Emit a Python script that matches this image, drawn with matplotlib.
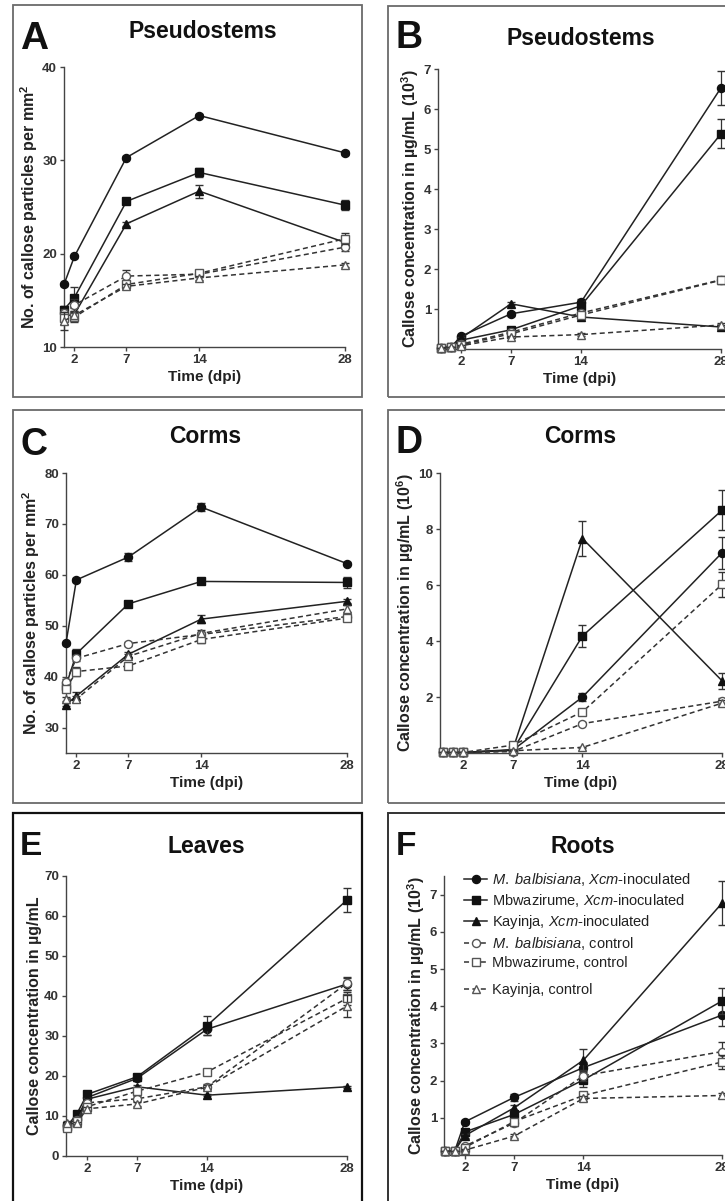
import matplotlib
matplotlib.use('Agg')
import matplotlib.pyplot as plt
from matplotlib.patches import Rectangle
from matplotlib.lines import Line2D

plt.rcParams['font.family'] = ['Liberation Sans', 'DejaVu Sans']
plt.rcParams['mathtext.fontset'] = 'custom'
plt.rcParams['mathtext.rm'] = 'Liberation Sans'
plt.rcParams['mathtext.it'] = 'Liberation Sans:italic'
plt.rcParams['mathtext.bf'] = 'Liberation Sans:bold'

# ---------------- data ----------------
series_labels = [
    r"$\mathit{M.\ balbisiana}$, $\mathit{Xcm}$-inoculated",
    r"Mbwazirume, $\mathit{Xcm}$-inoculated",
    r"Kayinja, $\mathit{Xcm}$-inoculated",
    r"$\mathit{M.\ balbisiana}$, control",
    r"Mbwazirume, control",
    r"Kayinja, control",
]
tick_x = [2, 7, 14, 28]

# A: Pseudostems, callose particles per mm2
A_x = [1, 2, 7, 14, 28]
A_vals = [[16.7, 19.7, 30.3, 34.8, 30.8],
          [14.0, 15.3, 25.6, 28.7, 25.2],
          [13.3, 13.5, 23.2, 26.7, 21.2],
          [13.6, 14.5, 17.6, 17.8, 20.7],
          [13.1, 13.2, 16.7, 17.9, 21.6],
          [12.8, 13.4, 16.5, 17.4, 18.8]]
A_errs = [[0.2, 0.2, 0.2, 0.2, 0.2],
          [0.4, 1.1, 0.3, 0.5, 0.5],
          [0.3, 0.4, 0.2, 0.7, 0.6],
          [0.5, 0.6, 0.7, 0.3, 0.4],
          [0.6, 0.5, 0.4, 0.3, 0.6],
          [1.0, 0.4, 0.3, 0.2, 0.2]]

# B: Pseudostems, callose concentration (10^3 ug/mL)
B_x = [0, 1, 2, 7, 14, 28]
B_vals = [[0.03, 0.05, 0.32, 0.88, 1.17, 6.53],
          [0.03, 0.05, 0.22, 0.48, 1.08, 5.38],
          [0.03, 0.05, 0.27, 1.13, 0.80, 0.55],
          [0.03, 0.05, 0.12, 0.42, 0.90, 1.73],
          [0.03, 0.05, 0.10, 0.38, 0.85, 1.72],
          [0.03, 0.05, 0.08, 0.30, 0.36, 0.60]]
B_errs = [[0.0, 0.0, 0.03, 0.05, 0.08, 0.43],
          [0.0, 0.0, 0.03, 0.05, 0.08, 0.36],
          [0.0, 0.0, 0.03, 0.04, 0.05, 0.05],
          [0.0, 0.0, 0.02, 0.04, 0.05, 0.10],
          [0.0, 0.0, 0.02, 0.04, 0.05, 0.08],
          [0.0, 0.0, 0.02, 0.03, 0.03, 0.04]]

# C: Corms, callose particles per mm2
C_x = [1, 2, 7, 14, 28]
C_vals = [[46.6, 59.0, 63.5, 73.3, 62.2],
          [38.2, 44.5, 54.3, 58.7, 58.5],
          [34.5, 36.2, 44.4, 51.3, 54.8],
          [39.0, 43.6, 46.5, 48.3, 51.8],
          [37.6, 41.0, 42.1, 47.3, 51.5],
          [35.6, 35.6, 44.0, 48.5, 53.3]]
C_errs = [[0.3, 0.4, 0.8, 0.8, 0.3],
          [0.8, 1.0, 0.4, 0.5, 1.0],
          [0.3, 0.8, 0.5, 0.8, 0.4],
          [0.5, 0.6, 0.4, 0.5, 0.4],
          [0.6, 0.8, 0.5, 0.6, 0.5],
          [0.4, 0.5, 0.5, 0.6, 0.7]]

# D: Corms, callose concentration (10^6 ug/mL)
D_x = [0, 1, 2, 7, 14, 28]
D_vals = [[0.02, 0.02, 0.02, 0.10, 2.00, 7.15],
          [0.02, 0.02, 0.02, 0.10, 4.18, 8.67],
          [0.02, 0.02, 0.02, 0.12, 7.66, 2.58],
          [0.02, 0.02, 0.02, 0.05, 1.05, 1.85],
          [0.02, 0.02, 0.02, 0.28, 1.47, 6.02],
          [0.02, 0.02, 0.02, 0.08, 0.20, 1.78]]
D_errs = [[0.0, 0.0, 0.0, 0.02, 0.15, 0.58],
          [0.0, 0.0, 0.0, 0.02, 0.40, 0.72],
          [0.0, 0.0, 0.0, 0.02, 0.63, 0.28],
          [0.0, 0.0, 0.0, 0.02, 0.05, 0.12],
          [0.0, 0.0, 0.0, 0.03, 0.08, 0.45],
          [0.0, 0.0, 0.0, 0.02, 0.03, 0.10]]

# E: Leaves, callose concentration (ug/mL)
E_x = [0, 1, 2, 7, 14, 28]
E_vals = [[7.8, 9.3, 14.6, 19.4, 31.7, 43.0],
          [7.4, 10.6, 15.4, 19.8, 32.6, 64.0],
          [7.6, 8.5, 14.2, 17.3, 15.2, 17.3],
          [7.5, 9.0, 13.3, 14.3, 17.3, 43.2],
          [6.9, 8.8, 12.3, 16.2, 21.0, 39.4],
          [8.3, 8.3, 11.8, 13.0, 17.2, 37.5]]
E_errs = [[0.3, 0.3, 0.5, 0.6, 1.5, 1.5],
          [0.3, 0.4, 0.6, 0.8, 2.3, 3.0],
          [0.3, 0.3, 0.4, 0.4, 0.3, 0.3],
          [0.3, 0.3, 0.5, 0.6, 0.6, 1.6],
          [0.4, 0.3, 0.6, 0.6, 0.5, 1.6],
          [0.4, 0.3, 0.5, 0.5, 0.5, 2.7]]

# F: Roots, callose concentration (10^3 ug/mL)
F_x = [0, 1, 2, 7, 14, 28]
F_vals = [[0.10, 0.12, 0.89, 1.55, 2.35, 3.76],
          [0.10, 0.12, 0.62, 1.09, 2.02, 4.14],
          [0.10, 0.12, 0.52, 1.27, 2.55, 6.77],
          [0.10, 0.12, 0.24, 0.86, 2.13, 2.78],
          [0.10, 0.12, 0.20, 0.90, 1.60, 2.50],
          [0.10, 0.12, 0.13, 0.51, 1.52, 1.60]]
F_errs = [[0.0, 0.0, 0.05, 0.10, 0.15, 0.30],
          [0.0, 0.0, 0.05, 0.10, 0.20, 0.35],
          [0.0, 0.0, 0.05, 0.08, 0.30, 0.60],
          [0.0, 0.0, 0.03, 0.08, 0.15, 0.25],
          [0.0, 0.0, 0.03, 0.08, 0.10, 0.20],
          [0.0, 0.0, 0.02, 0.05, 0.06, 0.06]]

# ---------------- layout helpers ----------------
W, H = 725, 1201
fig = plt.figure(figsize=(W / 100, H / 100), dpi=100)


def fx(x):
    return x / W


def fy(y):
    return 1 - y / H


def add_ax(l, t, r, b):
    return fig.add_axes([fx(l), fy(b), (r - l) / W, (b - t) / H])


def box(l, t, r, b, color='#6a6a6a', lw=1.3):
    fig.add_artist(Rectangle((fx(l), fy(b)), (r - l) / W, (b - t) / H,
                             transform=fig.transFigure, fill=False,
                             edgecolor=color, linewidth=lw, clip_on=False))


markers = ['o', 's', '^', 'o', 's', '^']
TICKFONT = dict(fontsize=9.5, fontweight='bold', color='#333333')


def style(i):
    filled = i < 3
    return dict(color='#222222' if filled else '#333333',
                ls='-' if filled else (0, (3.3, 2.2)), lw=1.1,
                marker=markers[i], ms=5.8 if markers[i] != '^' else 6.3,
                mfc='#111111' if filled else 'white',
                mec='#111111' if filled else '#555555', mew=1.0)


def draw(ax, x, vals, errs, xlim, ylim, yticks, ylabel):
    for i, (v, e) in enumerate(zip(vals, errs)):
        cont = ax.errorbar(
            x, v, yerr=e, ecolor='#333333', elinewidth=0.9, capsize=3,
            capthick=0.9, zorder=3 + i, clip_on=False, **style(i))
        for art in cont.get_children():
            art.set_clip_on(False)
    ax.set_xlim(*xlim)
    ax.set_ylim(*ylim)
    ax.set_xticks(tick_x)
    ax.set_yticks(yticks)
    ax.set_xticklabels([str(t) for t in tick_x], **TICKFONT)
    ax.set_yticklabels([str(t) for t in yticks], **TICKFONT)
    for s in ['top', 'right']:
        ax.spines[s].set_visible(False)
    for s in ['left', 'bottom']:
        ax.spines[s].set_color('#444444')
        ax.spines[s].set_linewidth(1.0)
    ax.tick_params(direction='out', length=3, width=1.0, color='#444444', pad=2)
    ax.set_xlabel('Time (dpi)', fontsize=11, fontweight='bold',
                  color='#222222', labelpad=3)
    ax.set_ylabel(ylabel, fontsize=11.5, fontweight='bold', color='#222222',
                  labelpad=1.5)
    ax.patch.set_alpha(0)


# panel frames
box(13, 5, 362, 397)
box(388, 6, 760, 397)
box(13, 410, 362, 803)
box(388, 410, 760, 803)
box(13, 813, 362, 1230, color='#111111', lw=1.6)
box(388, 813, 760, 1230, color='#333333', lw=1.4)

ylab_count = r"No. of callose particles per mm$^\mathbf{2}$"
ylab_conc3 = r"Callose concentration in µg/mL (10$^\mathbf{3}$)"
ylab_conc6 = r"Callose concentration in µg/mL (10$^\mathbf{6}$)"
ylab_conc = r"Callose concentration in µg/mL"

axA = add_ax(64, 67, 345, 347)
draw(axA, A_x, A_vals, A_errs, (1, 28), (10, 40), [10, 20, 30, 40], ylab_count)

axB = add_ax(438, 69, 721, 349)
draw(axB, B_x, B_vals, B_errs, (-0.3, 28), (0, 7), [1, 2, 3, 4, 5, 6, 7], ylab_conc3)

axC = add_ax(66, 473, 347, 753)
draw(axC, C_x, C_vals, C_errs, (1, 28), (25, 80), [30, 40, 50, 60, 70, 80], ylab_count)

axD = add_ax(440, 473, 722, 753)
draw(axD, D_x, D_vals, D_errs, (-0.3, 28), (0, 10), [2, 4, 6, 8, 10], ylab_conc6)

axE = add_ax(66, 876, 347, 1156)
draw(axE, E_x, E_vals, E_errs, (-0.1, 28), (0, 70), [0, 10, 20, 30, 40, 50, 60, 70], ylab_conc)

axF = add_ax(444, 876, 722, 1155)
draw(axF, F_x, F_vals, F_errs, (-0.1, 28), (0, 7.5), [1, 2, 3, 4, 5, 6, 7], ylab_conc3)

handles = [Line2D([], [], **style(i)) for i in range(6)]
leg_kw = dict(loc='upper left', frameon=False, fontsize=10.5, handlelength=1.6,
              handletextpad=0.3, labelspacing=0.28, borderpad=0,
              borderaxespad=0)
leg1 = axF.legend(handles[:5], series_labels[:5],
                  bbox_to_anchor=(0.072, 1.018), **leg_kw)
axF.add_artist(leg1)
leg2 = axF.legend(handles[5:], series_labels[5:],
                  bbox_to_anchor=(0.072, 0.615), **leg_kw)
for lg in (leg1, leg2):
    for t in lg.get_texts():
        t.set_color('#222222')

# panel letters and titles
letters = [('A', 20, 49, 28), ('B', 396, 48, 27), ('C', 20, 455, 27),
           ('D', 396, 453, 27), ('E', 20, 855, 24), ('F', 396, 855, 24)]
for s, x, y, size in letters:
    fig.text(fx(x), fy(y), s, fontsize=size, fontweight='bold',
             color='#111111', ha='left', va='baseline')

titles = [('Pseudostems', 203, 38), ('Pseudostems', 581, 45), ('Corms', 205, 443),
          ('Corms', 580, 443), ('Leaves', 206, 853), ('Roots', 583, 853)]
for s, x, y in titles:
    fig.text(fx(x), fy(y), s, fontsize=16.5, fontweight='bold',
             color='#111111', ha='center', va='baseline')

fig.savefig('out.png', dpi=100)
